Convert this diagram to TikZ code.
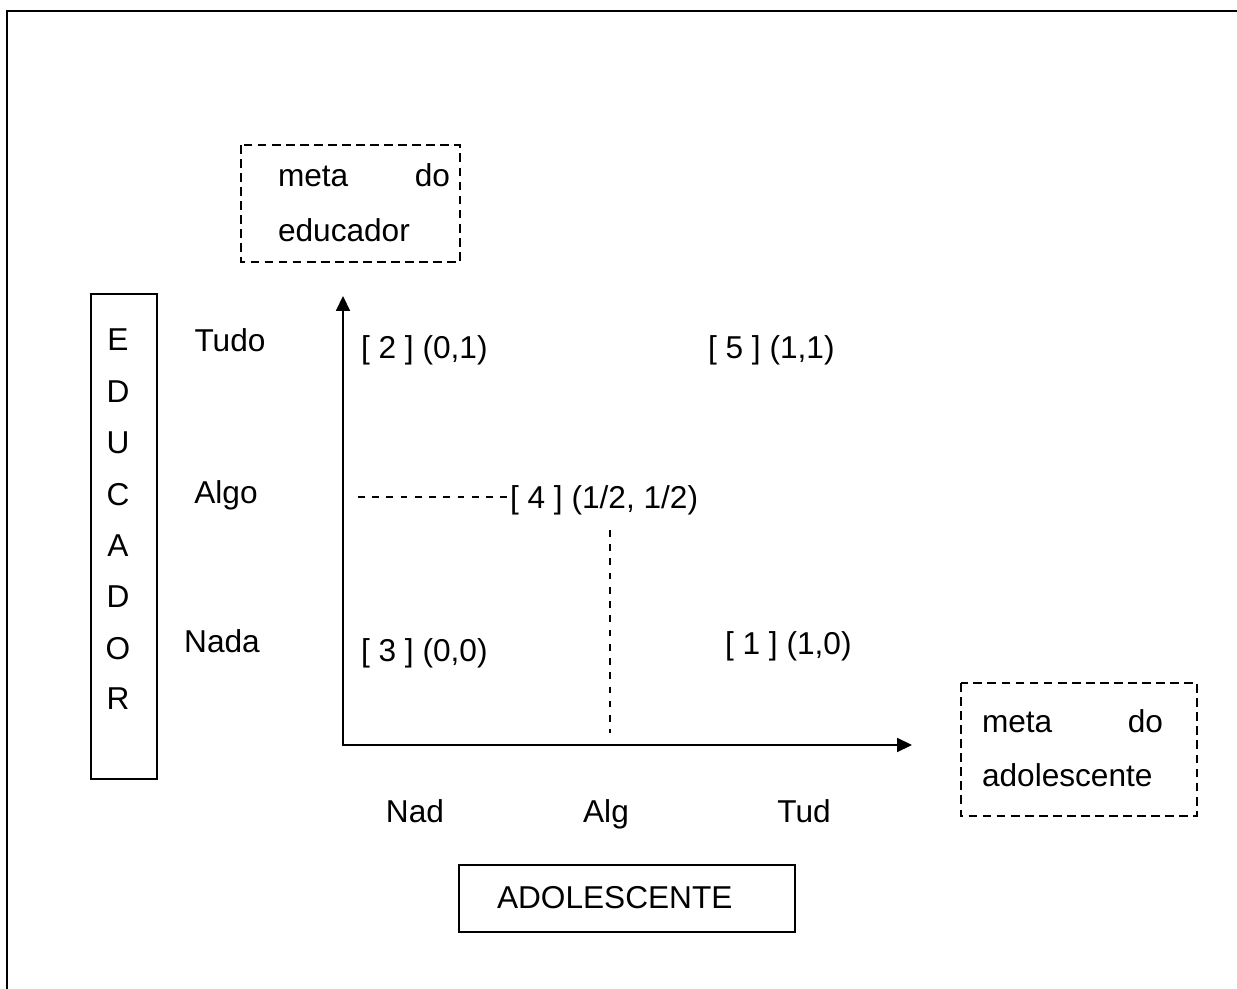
\documentclass[tikz,border=0pt]{standalone}
\usepackage{fontspec}
\setmainfont{Liberation Sans}
\usetikzlibrary{arrows.meta}
\begin{document}
\begin{tikzpicture}[x=0.02cm,y=-0.02cm,
  txt/.style={inner sep=0pt,outer sep=0pt,font=\fontsize{18}{22}\selectfont},
  solidbox/.style={draw,line width=0.8pt},
  dashbox/.style={draw,line width=0.8pt,dash pattern=on 5pt off 3pt},
  dashln/.style={line width=0.7pt,dash pattern=on 3.8pt off 4.3pt},
  axis/.style={line width=0.9pt,-{Triangle[length=8.5pt,width=8pt]}}]
\useasboundingbox (0,0) rectangle (1237,989);
% outer frame (left and top only)
\draw[line width=1.2pt] (7,989) -- (7,11) -- (1237,11);
% dashed goal boxes
\draw[dashbox] (241,145) rectangle (460,262);
\node[txt,anchor=base west] (m1) at (278,187) {meta};
\node[txt,anchor=base east] (d1) at (450,187) {do};
\node[txt,anchor=base west] (e1) at (278,242) {educador};
\draw[dashbox] (961,683) rectangle (1197,816);
\node[txt,anchor=base west] (m2) at (982,732) {meta};
\node[txt,anchor=base east] (d2) at (1163,732) {do};
\node[txt,anchor=base west] (a2) at (982,786) {adolescente};
% EDUCADOR box
\draw[solidbox] (91,294) rectangle (157,779);
\foreach \l/\yy [count=\i] in {E/351,D/403,U/454,C/505,A/556,D/607,O/659,R/709}
  \node[txt,anchor=base] (ed\i) at (118,\yy) {\l};
% row labels
\node[txt,anchor=base] (tudo) at (230,352) {Tudo};
\node[txt,anchor=base] (algo) at (226,503) {Algo};
\node[txt,anchor=base] (nada) at (222,652) {Nada};
% axes
\coordinate (O) at (343,745);
\coordinate (ytip) at (343,296);
\coordinate (xtip) at (912,745);
\draw[axis] (343,746) -- (ytip);
\draw[axis] (342.5,745) -- (xtip);
% points
\node[txt,anchor=base west] (p2) at (361,359) {[ 2 ] (0,1)};
\node[txt,anchor=base west] (p5) at (708,359) {[ 5 ] (1,1)};
\node[txt,anchor=base west] (p4) at (510,508) {[ 4 ] (1/2, 1/2)};
\node[txt,anchor=base west] (p3) at (361,661) {[ 3 ] (0,0)};
\node[txt,anchor=base west] (p1) at (725,654) {[ 1 ] (1,0)};
\coordinate (hstart) at (358,497);
\draw[dashln] (hstart) -- (p4.west |- hstart);
\coordinate (vtop) at (610,530);
\coordinate (vbot) at (610,733);
\draw[dashln] (vtop) -- (vbot);
% column labels
\node[txt,anchor=base] (nad) at (415,822) {Nad};
\node[txt,anchor=base] (alg) at (606,822) {Alg};
\node[txt,anchor=base] (tud) at (804,822) {Tud};
% ADOLESCENTE box
\draw[solidbox] (459,865) rectangle (795,932);
\node[txt,anchor=base west] (adol) at (497,908) {ADOLESCENTE};
\end{tikzpicture}
\end{document}
